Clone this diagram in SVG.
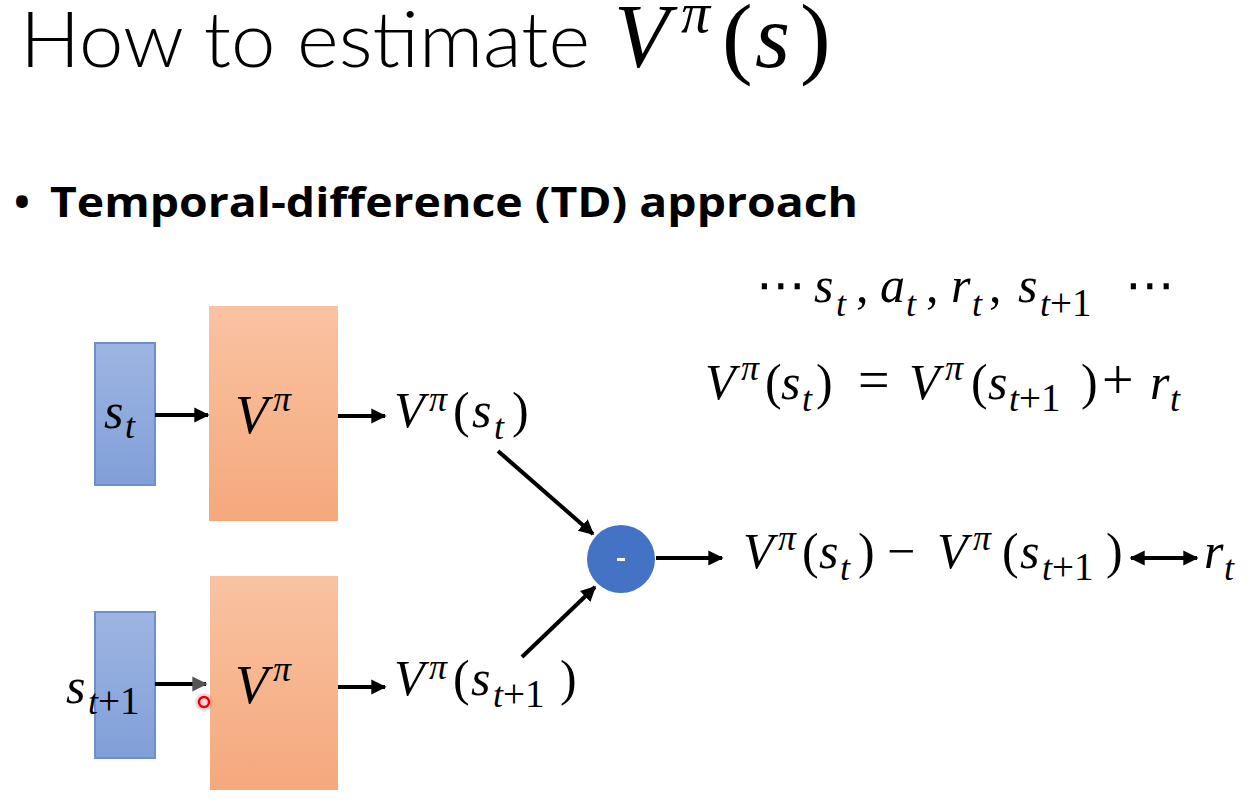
<svg xmlns="http://www.w3.org/2000/svg" width="1249" height="809" viewBox="0 0 1249 809">
<defs>
<style>
.t{font-family:"Lato","Liberation Sans",sans-serif;fill:#000}
.b{font-family:"Open Sans","Liberation Sans",sans-serif;font-weight:700;fill:#000}
.m{font-family:"Liberation Serif","DejaVu Serif",serif;font-style:italic;font-size:50px;fill:#000}
.u{font-style:normal}
.s{font-size:36px}
.p{font-size:39px}
.c{stroke:#000;stroke-width:4;fill:none}
</style>
<linearGradient id="gb" x1="0" y1="0" x2="0" y2="1"><stop offset="0" stop-color="#9DB5E2"/><stop offset="1" stop-color="#819FD8"/></linearGradient>
<linearGradient id="go" x1="0" y1="0" x2="0" y2="1"><stop offset="0" stop-color="#F9C3A2"/><stop offset="1" stop-color="#F5A87C"/></linearGradient>
<marker id="ah" viewBox="0 0 10 10" refX="9" refY="5" markerWidth="3.8" markerHeight="3.8" orient="auto"><path d="M0,0 L10,5 L0,10 z" fill="#000"/></marker>
<marker id="as" viewBox="0 0 10 10" refX="1" refY="5" markerWidth="3.8" markerHeight="3.8" orient="auto"><path d="M10,0 L0,5 L10,10 z" fill="#000"/></marker>
<marker id="ag" viewBox="0 0 10 10" refX="9" refY="5" markerWidth="3.8" markerHeight="3.8" orient="auto"><path d="M0,0 L10,5 L0,10 z" fill="#555"/></marker>
</defs>
<rect width="1249" height="809" fill="#fff"/>

<g id="title">
<text class="t" x="20" y="67" font-size="76" font-weight="300" textLength="570" lengthAdjust="spacingAndGlyphs">How to estimate</text>
<text class="m" style="font-size:90px"><tspan x="614" y="67">V</tspan><tspan x="681" y="32" style="font-size:58px">π</tspan><tspan class="u" x="722" y="67" style="font-size:92px">(</tspan><tspan x="755" y="67">s</tspan><tspan class="u" x="800" y="67" style="font-size:92px">)</tspan></text>
</g>

<g id="bullet">
<text class="b" x="14" y="217" font-size="42">•</text>
<text class="b" x="50" y="217" font-size="42" textLength="808" lengthAdjust="spacingAndGlyphs">Temporal-difference (TD) approach</text>
</g>

<g id="st">
<rect x="95" y="343" width="60" height="142" fill="url(#gb)" stroke="#6F8FCB" stroke-width="2"/>
<text class="m"><tspan x="104" y="428">s</tspan><tspan class="s" x="125" y="438">t</tspan></text>
</g>
<g id="V1">
<rect x="209" y="306" width="129" height="215" fill="url(#go)"/>
<text class="m" style="font-size:54px"><tspan x="235" y="433">V</tspan><tspan class="s" x="273" y="411">π</tspan></text>
</g>
<g id="stp1">
<rect x="95" y="612" width="60" height="146" fill="url(#gb)" stroke="#6F8FCB" stroke-width="2"/>
<text class="m"><tspan x="66" y="703">s</tspan><tspan class="s" x="88" y="714">t</tspan><tspan class="p u">+1</tspan></text>
</g>
<g id="V2">
<rect x="210" y="576" width="128" height="214" fill="url(#go)"/>
<text class="m" style="font-size:54px"><tspan x="235" y="703">V</tspan><tspan class="s" x="273" y="681">π</tspan></text>
</g>
<g id="minus">
<circle cx="621" cy="559" r="34" fill="#4472C4"/>
<rect x="617" y="558" width="8" height="3" fill="#fff"/>
</g>

<g id="labels">
<text class="m"><tspan x="394" y="427">V</tspan><tspan class="s" x="429" y="411">π</tspan><tspan class="u" x="453" y="427">(</tspan><tspan x="472" y="427">s</tspan><tspan class="s" x="494" y="439">t</tspan><tspan class="u" x="512" y="427">)</tspan></text>
<text class="m"><tspan x="394" y="695">V</tspan><tspan class="s" x="429" y="679">π</tspan><tspan class="u" x="453" y="695">(</tspan><tspan x="471" y="695">s</tspan><tspan class="s" x="493" y="707">t</tspan><tspan class="p u">+1</tspan><tspan class="u" x="560" y="695">)</tspan></text>

<text class="m"><tspan class="u" x="756" y="302" font-family="DejaVu Sans">⋯</tspan><tspan x="814" y="302">s</tspan><tspan class="s" x="836" y="316">t</tspan><tspan class="u" x="856" y="302">,</tspan><tspan x="880" y="302">a</tspan><tspan class="s" x="906" y="316">t</tspan><tspan class="u" x="926" y="302">,</tspan><tspan x="951" y="302">r</tspan><tspan class="s" x="972" y="316">t</tspan><tspan class="u" x="989" y="302">,</tspan><tspan x="1018" y="302">s</tspan><tspan class="s" x="1040" y="316">t</tspan><tspan class="p u">+1</tspan><tspan class="u" x="1125" y="302" font-family="DejaVu Sans">⋯</tspan></text>

<text class="m"><tspan x="705" y="399">V</tspan><tspan class="s" x="741" y="380">π</tspan><tspan class="u" x="765" y="399">(</tspan><tspan x="781" y="399">s</tspan><tspan class="s" x="802" y="411">t</tspan><tspan class="u" x="816" y="399">)</tspan><tspan class="u" x="858" y="399" style="font-size:56px">=</tspan><tspan x="909" y="399">V</tspan><tspan class="s" x="945" y="380">π</tspan><tspan class="u" x="971" y="399">(</tspan><tspan x="988" y="399">s</tspan><tspan class="s" x="1009" y="411">t</tspan><tspan class="p u">+1</tspan><tspan class="u" x="1081" y="399">)</tspan><tspan class="u" x="1102" y="399" style="font-size:56px">+</tspan><tspan x="1150" y="399">r</tspan><tspan class="s" x="1170" y="411">t</tspan></text>

<text class="m"><tspan x="743" y="568">V</tspan><tspan class="s" x="778" y="550">π</tspan><tspan class="u" x="802" y="568">(</tspan><tspan x="819" y="568">s</tspan><tspan class="s" x="840" y="580">t</tspan><tspan class="u" x="858" y="568">)</tspan><tspan class="u" x="887" y="568">−</tspan><tspan x="937" y="568">V</tspan><tspan class="s" x="973" y="550">π</tspan><tspan class="u" x="1002" y="568">(</tspan><tspan x="1020" y="568">s</tspan><tspan class="s" x="1042" y="580">t</tspan><tspan class="p u">+1</tspan><tspan class="u" x="1106" y="568">)</tspan></text>
<text class="m"><tspan x="1204" y="568">r</tspan><tspan class="s" x="1224" y="580">t</tspan></text>
</g>

<g id="connectors">
<line class="c" x1="155" y1="415" x2="208" y2="415" marker-end="url(#ah)"/>
<line class="c" x1="338" y1="416" x2="385" y2="416" marker-end="url(#ah)"/>
<line class="c" x1="155" y1="684" x2="206" y2="684" marker-end="url(#ag)" stroke="#222"/>
<line class="c" x1="338" y1="687" x2="385" y2="687" marker-end="url(#ah)"/>
<line class="c" x1="498" y1="451" x2="593" y2="534" marker-end="url(#ah)"/>
<line class="c" x1="522" y1="657" x2="595" y2="587" marker-end="url(#ah)"/>
<line class="c" x1="656" y1="558" x2="722" y2="558" marker-end="url(#ah)"/>
<line class="c" x1="1131" y1="558" x2="1197" y2="558" marker-start="url(#as)" marker-end="url(#ah)"/>
</g>

<g id="cursor">
<circle cx="204" cy="702" r="9" fill="#ff6060" opacity="0.25"/>
<circle cx="204" cy="702" r="5" fill="none" stroke="#e00" stroke-width="2.5"/>
</g>
</svg>
